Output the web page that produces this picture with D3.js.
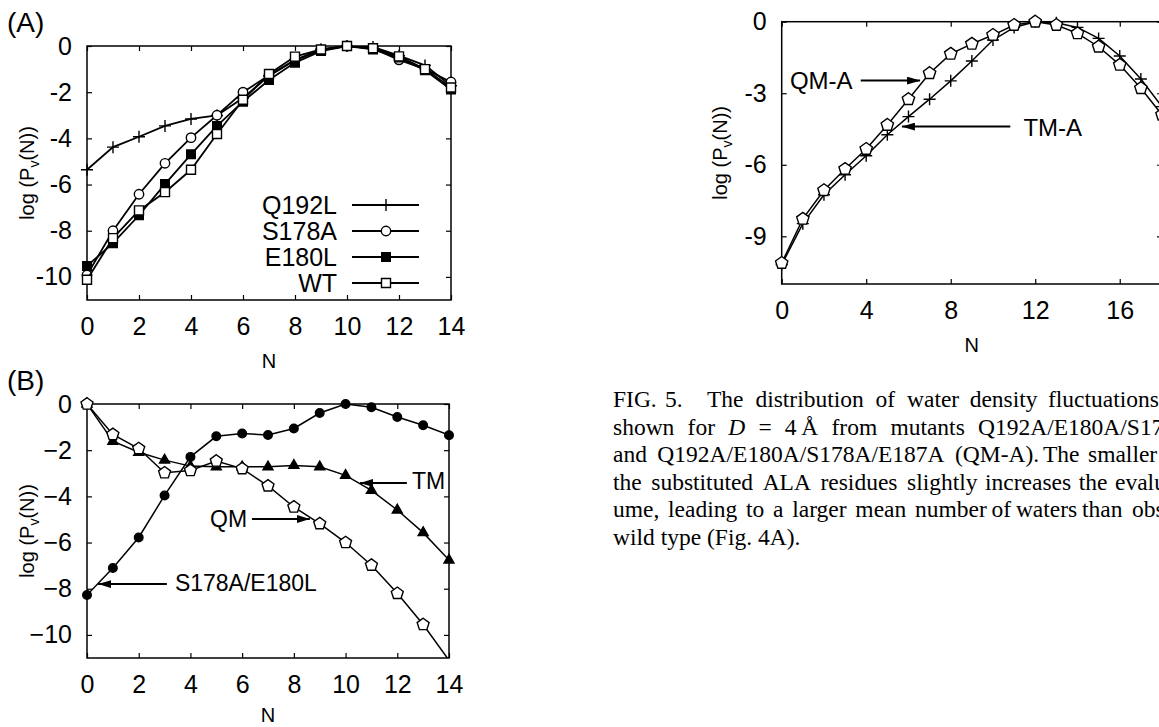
<!DOCTYPE html>
<html><head><meta charset="utf-8">
<script src="https://cdn.jsdelivr.net/npm/d3@7"></script>
<style>body{margin:0;background:#fff}</style>
</head><body><svg id="fig" width="1159" height="727" font-family="Liberation Sans, Arial, Helvetica, sans-serif"></svg>
<script>
// ---------------- DATA ----------------
// Panel (A)
const nA = [0,1,2,3,4,5,6,7,8,9,10,11,12,13,14];
const q192l = [-5.36,-4.38,-3.93,-3.46,-3.16,-3.01,-2.25,-1.3,-0.62,-0.14,0,-0.04,-0.42,-0.84,-1.72];
const s178a = [-9.92,-8.0,-6.42,-5.08,-3.97,-3.0,-2.0,-1.27,-0.6,-0.18,0,-0.1,-0.6,-1.0,-1.56];
const e180l = [-9.53,-8.54,-7.33,-5.98,-4.69,-3.46,-2.41,-1.47,-0.72,-0.22,0,-0.15,-0.5,-1.05,-1.88];
const wt    = [-10.12,-8.32,-7.12,-6.33,-5.36,-3.81,-2.33,-1.21,-0.46,-0.15,0,-0.1,-0.45,-1.0,-1.8];
const legendA = ["Q192L","S178A","E180L","WT"];
const xTicksAB = [0,2,4,6,8,10,12,14];
const xTickLabelsAB = ["0","2","4","6","8","10","12","14"];
const yTicksAB = [0,-2,-4,-6,-8,-10];
const yTickLabelsA = ["0","-2","-4","-6","-8","-10"];
const yTickLabelsB = ["0","\u22122","\u22124","\u22126","\u22128","\u221210"];
// Panel (B)
const nB = [0,1,2,3,4,5,6,7,8,9,10,11,12,13,14];
const s178aE180l = [-8.27,-7.1,-5.78,-3.96,-2.29,-1.4,-1.28,-1.34,-1.06,-0.39,0,-0.14,-0.56,-0.92,-1.35];
const tm = [0,-1.61,-2.09,-2.43,-2.69,-2.72,-2.72,-2.72,-2.66,-2.72,-3.09,-3.74,-4.59,-5.57,-6.76];
const qm = [0,-1.32,-1.93,-2.98,-2.88,-2.47,-2.8,-3.55,-4.46,-5.18,-6.0,-6.98,-8.2,-9.55,-11.1];
const annB = ["TM","QM","S178A/E180L"];
// Panel (C)
const nC = [0,1,2,3,4,5,6,7,8,9,10,11,12,13,14,15,16,17,18];
const tmA = [-10.19,-8.47,-7.26,-6.42,-5.62,-4.74,-3.98,-3.25,-2.48,-1.65,-0.77,-0.24,0,-0.04,-0.24,-0.7,-1.44,-2.4,-3.56];
const qmA = [-10.12,-8.27,-7.07,-6.18,-5.34,-4.33,-3.25,-2.16,-1.35,-0.93,-0.56,-0.14,0,-0.14,-0.49,-1.05,-1.81,-2.79,-3.9];
const annC = ["QM-A","TM-A"];
const xTicksC = [0,4,8,12,16];
const xTickLabelsC = ["0","4","8","12","16"];
const yTicksC = [0,-3,-6,-9];
const yTickLabelsC = ["0","-3","-6","-9"];
// Caption (the page cuts the right end of each line, as in the original)
const captionLines = [
  ["FIG.","5.","The","distribution","of","water","density","fluctuations"],
  ["shown","for","D","=","4\u2009\u00C5","from","mutants","Q192A/E180A/S178A"],
  ["and","Q192A/E180A/S178A/E187A","(QM-A).","The","smaller"],
  ["the","substituted","ALA","residues","slightly","increases","the","evaluated"],
  ["ume,","leading","to","a","larger","mean","number","of","waters","than","observed"],
  ["wild","type","(Fig.","4A)."]
];

// ---------------- DRAWING ----------------
const svg = d3.select("#fig");
svg.append("rect").attr("width",1159).attr("height",727).attr("fill","#fff");
const defs = svg.append("defs");
defs.append("marker").attr("id","arr").attr("viewBox","0 0 13 8").attr("refX",13).attr("refY",4)
  .attr("markerWidth",13).attr("markerHeight",8).attr("markerUnits","userSpaceOnUse").attr("orient","auto")
  .append("path").attr("d","M0,0L13,4L0,8Z").attr("fill","#000");

function symPath(type, r){
  if(type==="plus") return `M${-r},0H${r}M0,${-r}V${r}`;
  if(type==="circle") return `M${r},0A${r},${r} 0 1,1 ${-r},0A${r},${r} 0 1,1 ${r},0Z`;
  if(type==="square") return `M${-r},${-r}H${r}V${r}H${-r}Z`;
  if(type==="triangle") return `M0,${-r*1.15}L${r},${r*0.6}L${-r},${r*0.6}Z`;
  if(type==="pentagon"){
    const pts = d3.range(5).map(k=>{const a=-Math.PI/2+k*2*Math.PI/5; return [r*Math.cos(a), r*Math.sin(a)];});
    return "M"+pts.map(p=>p[0].toFixed(2)+","+p[1].toFixed(2)).join("L")+"Z";
  }
}

function drawPanel(p){
  const g = svg.append("g");
  const x = d3.scaleLinear().domain(p.xDomain).range([p.left,p.right]);
  const y = d3.scaleLinear().domain([-11,0]).range([p.bottom,p.top]);
  const cid = "clip"+p.id;
  defs.append("clipPath").attr("id",cid).append("rect")
    .attr("x",p.left).attr("y",p.top).attr("width",p.right-p.left).attr("height",p.bottom-p.top);
  const style = sel => { sel.select(".domain").remove();
    sel.selectAll(".tick line").attr("stroke","#000").attr("stroke-width",1.2);
    sel.attr("font-size",25).attr("font-family","Liberation Sans, Arial, sans-serif");
    sel.selectAll(".tick text").attr("fill","#000"); };
  g.append("g").attr("transform",`translate(0,${p.bottom})`)
    .call(d3.axisBottom(x).tickValues(p.xTicks).tickFormat((d,i)=>p.xTickLabels[i]).tickSizeInner(-5).tickSizeOuter(0).tickPadding(17)).call(style);
  g.append("g").attr("transform",`translate(0,${p.top})`)
    .call(d3.axisTop(x).tickValues(p.xTicks).tickFormat("").tickSizeInner(-5).tickSizeOuter(0)).call(style);
  g.append("g").attr("transform",`translate(${p.left},0)`)
    .call(d3.axisLeft(y).tickValues(p.yTicks).tickFormat((d,i)=>p.yTickLabels[i]).tickSizeInner(-5).tickSizeOuter(0).tickPadding(15)).call(style);
  g.append("g").attr("transform",`translate(${p.right},0)`)
    .call(d3.axisRight(y).tickValues(p.yTicks).tickFormat("").tickSizeInner(-5).tickSizeOuter(0)).call(style);
  g.append("rect").attr("x",p.left).attr("y",p.top).attr("width",p.right-p.left).attr("height",p.bottom-p.top)
    .attr("fill","none").attr("stroke","#000").attr("stroke-width",1.5);
  // axis titles
  g.append("text").attr("x",(p.left+p.right)/2).attr("y",p.bottom+p.nOff).attr("text-anchor","middle")
    .attr("font-size",20).text("N");
  const yl = g.append("text").attr("transform",`translate(${p.ylx},${(p.top+p.bottom)/2}) rotate(-90)`)
    .attr("text-anchor","middle").attr("dy","0.35em").attr("font-size",20);
  yl.append("tspan").text("log (P");
  yl.append("tspan").attr("font-size",14).attr("dy",5).text("v");
  yl.append("tspan").attr("dy",-5).text("(N))");
  if(p.label) g.append("text").attr("x",7).attr("y",p.top-14).attr("font-size",28).text(p.label);
  return {g,x,y,cid};
}

function series(P, xs, ys, type, r, fill, lw){
  const pts = xs.map((d,i)=>[d,ys[i]]);
  P.g.append("path").datum(pts).attr("d",d3.line().x(d=>P.x(d[0])).y(d=>P.y(d[1])))
    .attr("fill","none").attr("stroke","#000").attr("stroke-width",lw).attr("clip-path",`url(#${P.cid})`);
  P.g.append("g").selectAll("path").data(pts.filter(d=>d[1]>=-11)).join("path")
    .attr("transform",d=>`translate(${P.x(d[0])},${P.y(d[1])})`)
    .attr("d",symPath(type,r)).attr("fill",type==="plus"?"none":fill)
    .attr("stroke","#000").attr("stroke-width",1.4);
}

function annotate(P, text, tx, ty, ax1, ax2, ay, fs){
  P.g.append("line").attr("x1",P.x(ax1)).attr("x2",P.x(ax2)).attr("y1",P.y(ay)).attr("y2",P.y(ay))
    .attr("stroke","#000").attr("stroke-width",2).attr("marker-end","url(#arr)");
  P.g.append("text").attr("x",P.x(tx)).attr("y",P.y(ty)).attr("font-size",fs).text(text);
}

// Panel A
const PA = drawPanel({id:"A",xDomain:[0,14],left:87,right:451,top:46,bottom:300,nOff:68,
  xTicks:xTicksAB,xTickLabels:xTickLabelsAB,yTicks:yTicksAB,yTickLabels:yTickLabelsA,ylx:27,label:"(A)"});
const specA = [[q192l,"plus",6,"#000"],[s178a,"circle",4.7,"#fff"],[e180l,"square",4.3,"#000"],[wt,"square",4.5,"#fff"]];
specA.forEach(s=>series(PA,nA,s[0],s[1],s[2],s[3],1.8));
// legend
legendA.forEach((name,i)=>{
  const ly = 205 + i*26;
  PA.g.append("text").attr("x",337).attr("y",ly).attr("dy","0.36em").attr("text-anchor","end").attr("font-size",25).text(name);
  PA.g.append("line").attr("x1",352).attr("x2",419).attr("y1",ly).attr("y2",ly).attr("stroke","#000").attr("stroke-width",1.8);
  PA.g.append("path").attr("transform",`translate(386,${ly})`).attr("d",symPath(specA[i][1],specA[i][2]))
    .attr("fill",specA[i][1]==="plus"?"none":specA[i][3]).attr("stroke","#000").attr("stroke-width",1.4);
});

// Panel B
const PB = drawPanel({id:"B",xDomain:[0,14],left:87,right:449,top:404,bottom:658,nOff:64,
  xTicks:xTicksAB,xTickLabels:xTickLabelsAB,yTicks:yTicksAB,yTickLabels:yTickLabelsB,ylx:27,label:"(B)"});
series(PB,nB,tm,"triangle",5,"#000",1.5);
series(PB,nB,qm,"pentagon",6.3,"#fff",1.5);
series(PB,nB,s178aE180l,"circle",4.3,"#000",1.5);
annotate(PB,annB[0],12.57,-3.68,12.37,10.56,-3.42,23);
annotate(PB,annB[1],4.76,-5.33,6.38,8.62,-4.98,23);
annotate(PB,annB[2],3.40,-8.10,3.09,0.43,-7.80,23);

// Panel C
const PC = drawPanel({id:"C",xDomain:[0,18],left:781.7,right:1162,top:21.7,bottom:284,nOff:68,
  xTicks:xTicksC,xTickLabels:xTickLabelsC,yTicks:yTicksC,yTickLabels:yTickLabelsC,ylx:720,label:null});
series(PC,nC,tmA,"plus",6,"#000",1.5);
series(PC,nC,qmA,"pentagon",6.5,"#fff",1.5);
annotate(PC,annC[0],0.39,-2.82,3.74,6.55,-2.47,24);
annotate(PC,annC[1],11.44,-4.79,10.82,5.69,-4.40,24);

// Caption (justified lines)
const SERIF = "Liberation Serif, Times New Roman, serif";
const capG = svg.append("g").attr("font-family",SERIF).attr("font-size",23.5);
const baselines = [407,434.6,462.2,489.8,517.4,545];
const anchors = [
  {0:613,1:665,2:707,5:907,7:1048},
  {0:613,7:978},
  {0:613,2:955,3:1043,4:1088},
  {0:613,4:907,7:1115},
  {0:613,6:915,9:1082,10:1132},
  {0:613}
];
const italicWords = {"1_2":true};
const meas = capG.append("text").attr("x",-999).attr("y",-999);
captionLines.forEach((words,li)=>{
  const w = words.map((wd,j)=>{ meas.text(wd).attr("font-style",italicWords[li+"_"+j]?"italic":"normal"); return meas.node().getComputedTextLength(); });
  const an = anchors[li];
  const idx = Object.keys(an).map(Number).sort((a,b)=>a-b);
  const xs = new Array(words.length);
  let gap = 23.5*0.25;
  idx.forEach((a,k)=>{
    xs[a]=an[a];
    if(k<idx.length-1){
      const b=idx[k+1];
      let s=0; for(let j=a;j<b;j++) s+=w[j];
      gap=(an[b]-an[a]-s)/(b-a);
      for(let j=a+1;j<b;j++) xs[j]=xs[j-1]+w[j-1]+gap;
    }
  });
  const last = idx[idx.length-1];
  for(let j=last+1;j<words.length;j++) xs[j]=xs[j-1]+w[j-1]+gap;
  const t = capG.append("text").attr("y",baselines[li]).attr("font-family",SERIF);
  words.forEach((wd,j)=>{
    t.append("tspan").attr("x",xs[j]).attr("font-style",italicWords[li+"_"+j]?"italic":null).text(wd);
  });
});
meas.remove();
</script></body></html>
